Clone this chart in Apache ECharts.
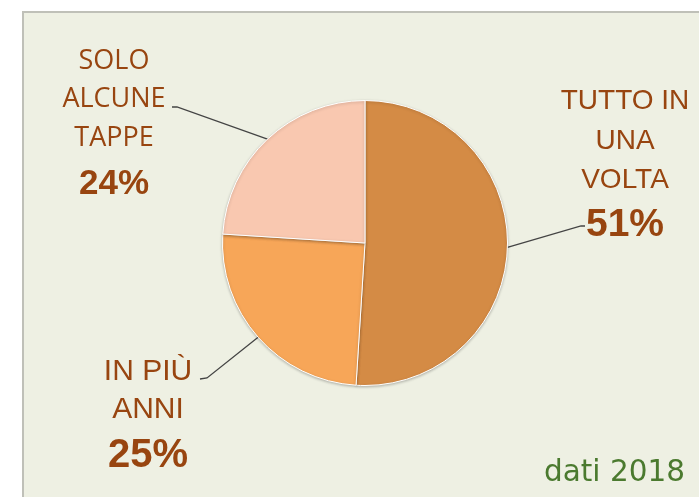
<!DOCTYPE html>
<html>
<head>
<meta charset="utf-8">
<script src="https://cdn.jsdelivr.net/npm/echarts@6/dist/echarts.min.js"></script>
<style>
  html, body { margin: 0; padding: 0; background: #ffffff; }
  #frame {
    position: absolute; left: 22px; top: 11px; right: 0; bottom: 0;
    background: #eef0e3;
    border-left: 2px solid #bfc0b8; border-top: 2px solid #bfc0b8;
  }
  #chart { position: absolute; left: 0; top: 0; width: 699px; height: 497px; }
</style>
</head>
<body>
<div id="frame"></div>
<div id="chart"></div>
<script>
// dati
const categories = ['TUTTO IN\nUNA\nVOLTA', 'IN PIÙ\nANNI', 'SOLO\nALCUNE\nTAPPE']
const values = [51, 25, 24]
const colors = ['#d48b45', '#f7a658', '#f9c8b0']

// stili e posizioni delle etichette
const textStyleKey = ['t', 'u', 's']
const pctStyleKey = ['p', 'r', 'q']
const labelPos = [
  { x: 625, y: 82, bend: [581, 226], end: [585, 226] },
  { x: 148, y: 352, bend: [207, 378], end: [200, 379] },
  { x: 114, y: 42, bend: [177, 107], end: [172, 107] }
]

const chart = echarts.init(document.getElementById('chart'))

const brown = '#984510'
const option = {
  backgroundColor: 'transparent',
  title: {
    text: 'dati 2018',
    right: 9,
    top: 453,
    textStyle: {
      fontFamily: 'DejaVu Sans',
      fontSize: 29.5,
      fontWeight: 'normal',
      color: '#4b7a2f'
    }
  },
  series: [
    {
      type: 'pie',
      center: [365, 243],
      radius: 142.5,
      startAngle: 90,
      clockwise: true,
      avoidLabelOverlap: false,
      animation: false,
      itemStyle: {
        borderColor: '#ffffff',
        borderWidth: 1,
        shadowBlur: 3,
        shadowColor: 'rgba(0,0,0,0.25)',
        shadowOffsetY: 1
      },
      label: {
        show: true,
        position: 'outside',
        formatter: (p) => {
          const t = textStyleKey[p.dataIndex]
          const lines = p.name.split('\n').map(s => `{${t}|${s}}`)
          lines.push(`{${pctStyleKey[p.dataIndex]}|${p.value}%}`)
          return lines.join('\n')
        },
        rich: {
          t: { fontFamily: 'Liberation Sans, Arial', fontSize: 28, lineHeight: 39.5, color: brown },
          u: { fontFamily: 'Liberation Sans, Arial', fontSize: 30, lineHeight: 38.5, color: brown },
          s: { fontFamily: 'Open Sans', fontSize: 27, lineHeight: 38.5, color: brown },
          p: { fontFamily: 'Liberation Sans, Arial', fontSize: 39, fontWeight: 'bold', lineHeight: 50, color: brown },
          r: { fontFamily: 'Liberation Sans, Arial', fontSize: 40, fontWeight: 'bold', lineHeight: 54, color: brown },
          q: { fontFamily: 'Liberation Sans, Arial', fontSize: 35, fontWeight: 'bold', lineHeight: 53, color: brown }
        }
      },
      labelLine: {
        show: true,
        lineStyle: { color: '#444444', width: 1.3 }
      },
      labelLayout: (params) => {
        const pos = labelPos[params.dataIndex]
        const start = params.labelLinePoints ? params.labelLinePoints[0] : pos.bend
        return {
          x: pos.x,
          y: pos.y,
          align: 'center',
          verticalAlign: 'top',
          labelLinePoints: [start, pos.bend, pos.end]
        }
      },
      data: categories.map((name, i) => ({
        name: name,
        value: values[i],
        itemStyle: { color: colors[i] }
      }))
    }
  ]
}

chart.setOption(option)
</script>
</body>
</html>
